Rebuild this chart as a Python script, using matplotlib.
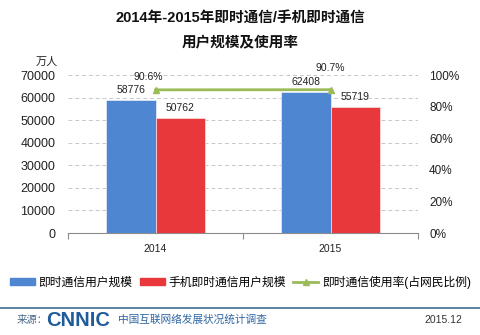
import numpy as np
import matplotlib
matplotlib.use("Agg")
import matplotlib.pyplot as plt
from matplotlib.lines import Line2D
from matplotlib.patches import Patch
from matplotlib.ticker import FuncFormatter

plt.rcParams['font.family'] = ['Liberation Sans', 'Noto Sans CJK SC', 'DejaVu Sans']

years = ['2014', '2015']
im_users = [58776, 62408]          # 即时通信用户规模 (万人)
mobile_im_users = [50762, 55719]   # 手机即时通信用户规模 (万人)
im_rate = [0.906, 0.907]           # 即时通信使用率
series_names = ['即时通信用户规模', '手机即时通信用户规模', '即时通信使用率(占网民比例)']

BLUE = '#4F86D2'
RED = '#E8383B'
GREEN = '#9BBB59'

fig = plt.figure(figsize=(4.81, 3.35), dpi=100, facecolor='white')

ax = fig.add_axes([68 / 481, 1 - 233 / 335, 350 / 481, 158 / 335])
x = np.arange(len(years))
w = 0.283
b1 = ax.bar(x - w / 2, im_users, w, color=BLUE, edgecolor='#DCE8F5', linewidth=0.6, zorder=3)
b2 = ax.bar(x + w / 2, mobile_im_users, w, color=RED, edgecolor='#F6D6D6', linewidth=0.6, zorder=3)

ax.set_xlim(-0.5, 1.5)
ax.set_ylim(0, 70000)
ax.set_yticks(np.arange(0, 70001, 10000))
ax.yaxis.grid(True, linestyle=(0, (4, 3)), color='#C8C8C8', linewidth=0.7)
ax.set_axisbelow(True)
for s in ['left', 'right', 'top']:
    ax.spines[s].set_visible(False)
ax.spines['bottom'].set_color('#8C8C8C')
ax.spines['bottom'].set_linewidth(0.8)
ax.tick_params(axis='y', length=0, pad=9, labelsize=9, labelcolor='#222222')
ax.set_xticks(x)
ax.set_xticklabels(years)
ax.tick_params(axis='x', length=0, pad=8, labelsize=7.5, labelcolor='#222222')
ax.set_xticks([-0.5, 0.5, 1.5], minor=True)
ax.tick_params(axis='x', which='minor', length=4, color='#8C8C8C', width=0.8)

for bars, vals in ((b1, im_users), (b2, mobile_im_users)):
    for rect, v in zip(bars, vals):
        ax.annotate(f'{v}', (rect.get_x() + rect.get_width() / 2, v), xytext=(0, 4),
                    textcoords='offset points', ha='center', va='bottom',
                    fontsize=7.5, color='#222222')

ax2 = ax.twinx()
ax2.set_ylim(0, 1)
ax2.set_yticks(np.arange(0, 1.01, 0.2))
ax2.yaxis.set_major_formatter(FuncFormatter(lambda v, p: f'{v * 100:.0f}%'))
for s in ['left', 'right', 'top', 'bottom']:
    ax2.spines[s].set_visible(False)
ax2.tick_params(axis='y', length=0, pad=8, labelsize=8.5, labelcolor='#222222')
ax2.plot(x, im_rate, color=GREEN, linewidth=2, marker='^', markersize=5, zorder=5)
offsets = [(-5, 9), (0, 15.5)]
for xi, r, off in zip(x, im_rate, offsets):
    ax2.annotate(f'{r * 100:.1f}%', (xi, r), xytext=off, textcoords='offset points',
                 ha='center', va='center', fontsize=7.5, color='#222222')

fig.text(47 / 481, 1 - 62 / 335, '万人', fontsize=8, ha='center', va='center', color='#222222')

fig.text(0.5, 1 - 18 / 335, '2014年-2015年即时通信/手机即时通信', fontsize=10.5,
         fontweight='bold', ha='center', va='center', color='#111111')
fig.text(0.5, 1 - 42 / 335, '用户规模及使用率', fontsize=10.5,
         fontweight='bold', ha='center', va='center', color='#111111')

handles = [Patch(color=BLUE), Patch(color=RED),
           Line2D([0], [0], color=GREEN, linewidth=2, marker='^', markersize=4)]
fig.legend(handles, series_names, loc='center', bbox_to_anchor=(0.5, 1 - 282 / 335), ncol=3,
           frameon=False, fontsize=8.5, handlelength=2.1, handleheight=0.5,
           handletextpad=0.35, columnspacing=0.6, borderpad=0)

# footer
fig.add_artist(Line2D([0, 1], [1 - 308 / 335] * 2, color='#3E6E93', linewidth=1.2))
fig.text(17 / 481, 1 - 320 / 335, '来源：', fontsize=7.5, color='#4A6A8A', ha='left', va='center')
fig.text(46 / 481, 1 - 320 / 335, 'CNNIC', fontsize=14.5, fontweight='bold', color='#1F5C9A',
         ha='left', va='center')
fig.text(118 / 481, 1 - 320 / 335, '中国互联网络发展状况统计调查', fontsize=7.7, color='#2F66A3',
         ha='left', va='center')
fig.text(462 / 481, 1 - 320 / 335, '2015.12', fontsize=7.5, color='#333333', ha='right', va='center')

fig.savefig('out.png', dpi=100, facecolor='white')
